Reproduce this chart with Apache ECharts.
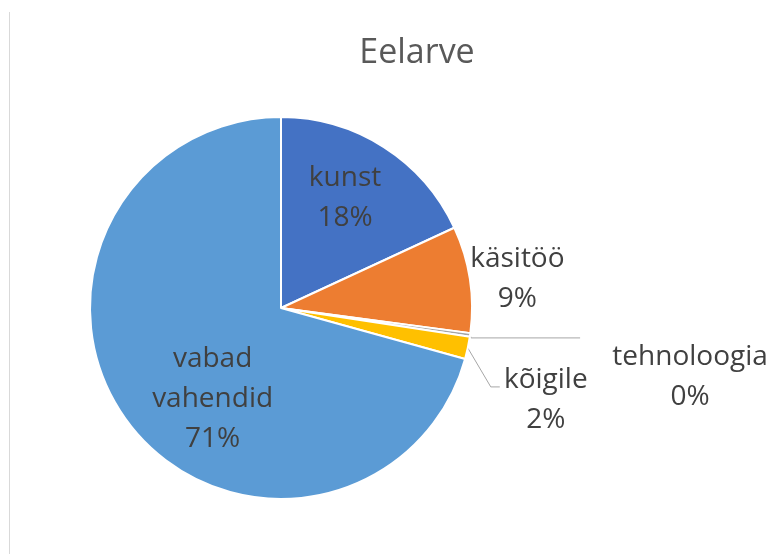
<!DOCTYPE html>
<html>
<head>
<meta charset="utf-8">
<title>Eelarve</title>
<script src="https://cdn.jsdelivr.net/npm/echarts@6/dist/echarts.min.js"></script>
<style>
  html, body { margin: 0; padding: 0; background: #fff; }
  #frame { position: absolute; left: 9px; top: 12px; bottom: 0; border-left: 1px solid #d9d9d9; }
  #chart { position: absolute; left: 0; top: 0; width: 773px; height: 554px; }
</style>
</head>
<body>
<div id="chart"></div>
<div id="frame"></div>
<script>
var chartTitle = "Eelarve";
var categories = ["kunst", "käsitöö", "tehnoloogia", "kõigile", "vabad vahendid"];
var values = [18.1, 9.0, 0.3, 1.9, 70.7];
var sliceColors = ["#4472c4", "#ed7d31", "#a5a5a5", "#ffc000", "#5b9bd5"];

(function () {
  "use strict";

  // label tweaks by category: inside labels get shifted, outside ones get an Excel-like leader
  var insideShift = {
    "kunst": [11, -27],
    "käsitöö": [139, -14],
    "vabad vahendid": [10, 31]
  };
  var outsideLeader = {
    "tehnoloogia": { line: [[1, 3], [110, 3]], label: [220, 42] },
    "kõigile": { line: [[23, 39], [32, 39]], label: [78, 52] }
  };

  function renderChart() {
    var node = document.getElementById("chart");
    var chart = echarts.init(node);
    var textColor = "#404040";
    var font = "'Open Sans', 'Noto Sans', sans-serif";

    var data = categories.map(function (name, i) {
      var outside = !!outsideLeader[name];
      return {
        name: name,
        value: values[i],
        itemStyle: { color: sliceColors[i] },
        label: { position: outside ? "outside" : "inside" },
        labelLine: { show: outside }
      };
    });

    chart.setOption({
      animation: false,
      title: {
        text: chartTitle, left: 417, top: 36, textAlign: "center", padding: 0,
        textStyle: { fontFamily: font, fontSize: 34, fontWeight: "normal", color: "#595959" }
      },
      series: [{
        type: "pie",
        center: [281, 308],
        radius: 191,
        startAngle: 90,
        clockwise: true,
        avoidLabelOverlap: false,
        itemStyle: { borderColor: "#fff", borderWidth: 2 },
        label: {
          show: true, color: textColor, fontFamily: font, fontSize: 28, lineHeight: 40, align: "center",
          formatter: function (p) {
            return p.name.replace(" ", "\n") + "\n" + Math.round(p.percent) + "%";
          }
        },
        labelLine: { length: 5, length2: 20, lineStyle: { color: "#a6a6a6", width: 1 } },
        labelLayout: function (p) {
          var name = categories[p.dataIndex];
          if (insideShift[name]) {
            return { dx: insideShift[name][0], dy: insideShift[name][1] };
          }
          var lead = outsideLeader[name];
          if (lead && p.labelLinePoints) {
            var p0 = p.labelLinePoints[0];
            var pts = [[p0[0], p0[1]]].concat(lead.line.map(function (d) {
              return [p0[0] + d[0], p0[1] + d[1]];
            }));
            return {
              x: p0[0] + lead.label[0], y: p0[1] + lead.label[1],
              align: "center", verticalAlign: "middle",
              labelLinePoints: pts
            };
          }
          return {};
        },
        data: data
      }]
    });
    window.addEventListener("resize", function () { chart.resize(); });
  }

  if (document.readyState === "loading") document.addEventListener("DOMContentLoaded", renderChart);
  else renderChart();
})();
</script>
</body>
</html>
